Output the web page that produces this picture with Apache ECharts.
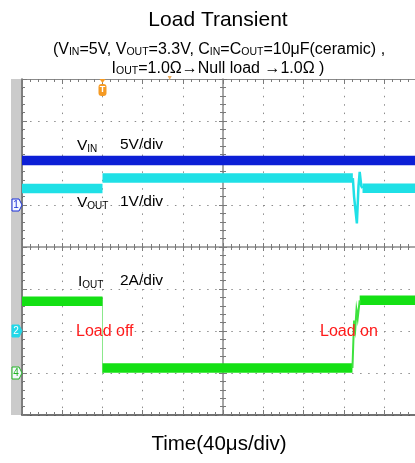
<!DOCTYPE html>
<html><head><meta charset="utf-8">
<script src="https://cdn.jsdelivr.net/npm/echarts@6/dist/echarts.min.js"></script>
<style>html,body{margin:0;padding:0;background:#fff}#c{width:415px;height:463px}</style>
</head><body><div id="c"></div>
<script>
// ---- data (x in time divisions, y in vertical divisions) ----
// the screen is 10 divisions wide but the picture is cut at about 9.76 divisions
const xDivs = [0, 9.764];
const yDivs = [0, 8];
const vinBand = [[0, 6.06], [10, 6.06]];
const voutBandBefore = [[0, 5.39], [2.0, 5.39]];
const voutBandMid = [[2.0, 5.64], [8.22, 5.64]];
const voutBandAfter = [[8.46, 5.40], [10, 5.40]];
const voutTransient = [[8.22, 5.64], [8.25, 5.2], [8.32, 4.56], [8.36, 5.45], [8.39, 5.79], [8.43, 5.45], [8.46, 5.40]];
const ioutBandHigh = [[0, 2.71], [2.0, 2.71]];
const ioutBandLow = [[2.0, 1.12], [8.21, 1.12]];
const ioutBandHigh2 = [[8.39, 2.73], [10, 2.73]];
const ioutFall = [[2.0, 2.76], [2.0, 0.98]];
const ioutRise = [[8.21, 1.12], [8.25, 2.25], [8.28, 2.05], [8.31, 2.5], [8.34, 2.3], [8.39, 2.73]];
const channelGround = [{ch: '1', y: 5, color: '#1a2fd8', filled: false},
                       {ch: '2', y: 2, color: '#22d8e8', filled: true},
                       {ch: '4', y: 1, color: '#22b422', filled: false}];
const triggerX = 2;
const positionMarkX = 3.67;

const FONT = '"Liberation Sans", Arial, sans-serif';
const chart = echarts.init(document.getElementById('c'));

function xAx(o) {
  return Object.assign({
    type: 'value', min: xDivs[0], max: xDivs[1], interval: 1, gridIndex: 0,
    axisLabel: {show: false}, splitLine: {show: false},
    axisLine: {show: true, onZero: false, lineStyle: {color: '#6a6a6a', width: 1}},
    axisTick: {show: true, inside: true, length: 5, lineStyle: {color: '#7a7a7a'}},
    minorTick: {show: true, splitNumber: 5, length: 3, lineStyle: {color: '#7a7a7a'}}
  }, o);
}
function yAx(o) {
  return Object.assign({
    type: 'value', min: yDivs[0], max: yDivs[1], interval: 1, gridIndex: 0,
    axisLabel: {show: false}, splitLine: {show: false},
    axisLine: {show: true, onZero: false, lineStyle: {color: '#6a6a6a', width: 1}},
    axisTick: {show: true, inside: true, length: 5, lineStyle: {color: '#7a7a7a'}},
    minorTick: {show: true, splitNumber: 5, length: 3, lineStyle: {color: '#7a7a7a'}}
  }, o);
}

function band(data, color, w, z) {
  return {type: 'line', data, xAxisIndex: 0, yAxisIndex: 0, symbol: 'none', silent: true,
    animation: false, z: z || 3, lineStyle: {color, width: w, cap: 'butt', join: 'miter'}};
}

const M = {fontSize: 15.5, lineHeight: 20, verticalAlign: 'bottom', fontFamily: FONT, fill: '#000'};
const S = {fontSize: 10, lineHeight: 10, verticalAlign: 'bottom', fontFamily: FONT, fill: '#000'};
const TM = {fontSize: 16, lineHeight: 20, verticalAlign: 'bottom', fontFamily: FONT, fill: '#000'};
const TS = {fontSize: 10.5, lineHeight: 10, verticalAlign: 'bottom', fontFamily: FONT, fill: '#000'};

function rtext(x, y, text, rich, align) {
  return {type: 'text', x, y, z: 20, silent: true,
    style: {text, rich, align: align || 'left', verticalAlign: 'middle', fontFamily: FONT}};
}

chart.setOption({
  animation: false,
  backgroundColor: '#fff',
  grid: {left: 22, top: 79, right: 0, bottom: 48, containLabel: false},
  xAxis: [
    xAx({position: 'bottom', axisLine: {show: true, onZero: false, lineStyle: {color: '#444', width: 1.5}},
      splitLine: {show: true, lineStyle: {color: '#8c8c8c', width: 1, type: [1.5, 6.9]}}}),
    xAx({position: 'top', axisLine: {show: true, onZero: false, lineStyle: {color: '#8a8a8a', width: 1}}}),
    xAx({position: 'bottom', offset: -168, axisLine: {show: true, onZero: false, lineStyle: {color: '#8a8a8a', width: 1.5}}, axisTick: {show: true, inside: true, length: 4, lineStyle: {color: '#7a7a7a'}}}),
    xAx({position: 'bottom', offset: -168, axisLine: {show: false}, axisTick: {show: true, inside: false, length: 4, lineStyle: {color: '#7a7a7a'}}})
  ],
  yAxis: [
    yAx({position: 'left', axisLine: {show: true, onZero: false, lineStyle: {color: '#555', width: 1.5}},
      splitLine: {show: true, lineStyle: {color: '#8c8c8c', width: 1, type: [1.5, 6.55]}}}),
    yAx({position: 'left', offset: -201, axisLine: {show: true, onZero: false, lineStyle: {color: '#8a8a8a', width: 1.5}}, axisTick: {show: true, inside: true, length: 4, lineStyle: {color: '#7a7a7a'}}}),
    yAx({position: 'left', offset: -201, axisLine: {show: false}, axisTick: {show: true, inside: false, length: 4, lineStyle: {color: '#7a7a7a'}}})
  ],
  series: [
    band(vinBand, '#0c1fd6', 9.5),
    band(voutBandBefore, '#1fe0e6', 9.5),
    band(voutBandMid, '#1fe0e6', 9.5),
    band(voutBandAfter, '#1fe0e6', 9.5),
    band(voutTransient, '#1fe0e6', 2.5),
    band(ioutBandHigh, '#14e014', 9.5),
    band(ioutBandLow, '#14e014', 9.5),
    band(ioutBandHigh2, '#14e014', 9.5),
    band(ioutFall, '#8be88b', 1, 2),
    band(ioutRise, '#3ee23e', 2)
  ]
});

// decorations placed through the axes' own scale
const px = (x, y) => chart.convertToPixel({xAxisIndex: 0, yAxisIndex: 0}, [x, y]);
const pTop = px(0, yDivs[1]), pBot = px(0, yDivs[0]);
const graphics = [
  {type: 'rect', z: 0, silent: true, shape: {x: 11, y: pTop[1], width: 10, height: pBot[1] - pTop[1]}, style: {fill: '#cbcbcb'}}
];
channelGround.forEach(c => {
  const p = px(0, c.y);
  const cy = p[1];
  graphics.push({type: 'polygon', z: 15, silent: true,
    shape: {points: [[12, cy - 6], [19, cy - 6], [22, cy], [19, cy + 6], [12, cy + 6]]},
    style: {fill: c.filled ? c.color : '#f4f8ff', stroke: c.color, lineWidth: 1}});
  graphics.push({type: 'text', z: 16, silent: true, x: 16, y: cy,
    style: {text: c.ch, fill: c.filled ? '#fff' : c.color, fontSize: 10, fontFamily: FONT, align: 'center', verticalAlign: 'middle'}});
});
const tp = px(triggerX, yDivs[1]);
graphics.push({type: 'polygon', z: 15, silent: true, shape: {points: [[tp[0] - 3, tp[1]], [tp[0] + 3, tp[1]], [tp[0], tp[1] + 4]]}, style: {fill: '#f59a23'}});
graphics.push({type: 'rect', z: 15, silent: true, shape: {x: tp[0] - 4, y: tp[1] + 5, width: 8, height: 12, r: 3}, style: {fill: '#f59a23'}});
graphics.push({type: 'text', z: 16, silent: true, x: tp[0], y: tp[1] + 11,
  style: {text: 'T', fill: '#fff', fontSize: 9, fontWeight: 'bold', fontFamily: FONT, align: 'center', verticalAlign: 'middle'}});
const pm = px(positionMarkX, yDivs[1]);
graphics.push({type: 'polygon', z: 15, silent: true, shape: {points: [[pm[0] - 2, pm[1] - 3], [pm[0] + 2, pm[1] - 3], [pm[0], pm[1] + 1]]}, style: {fill: '#f0b060'}});

graphics.push(
  {type: 'text', z: 20, silent: true, x: 218, y: 20, style: {text: 'Load Transient', fontSize: 21, fontFamily: FONT, fill: '#000', align: 'center', verticalAlign: 'middle'}},
  rtext(219, 48, '{m|(V}{s|IN}{m|=5V, V}{s|OUT}{m|=3.3V, C}{s|IN}{m|=C}{s|OUT}{m|=10μF(ceramic) ,}', {m: TM, s: TS}, 'center'),
  rtext(218, 67, '{m|I}{s|OUT}{m|=1.0Ω→Null load →1.0Ω )}', {m: TM, s: TS}, 'center'),
  {type: 'text', z: 20, silent: true, x: 219, y: 444, style: {text: 'Time(40μs/div)', fontSize: 20.5, fontFamily: FONT, fill: '#000', align: 'center', verticalAlign: 'middle'}},
  rtext(77, 144, '{m|V}{s|IN}', {m: M, s: S}),
  rtext(120, 143, '{m|5V/div}', {m: M}),
  rtext(77, 201, '{m|V}{s|OUT}', {m: M, s: S}),
  rtext(120, 200, '{m|1V/div}', {m: M}),
  rtext(78, 280, '{m|I}{s|OUT}', {m: M, s: S}),
  rtext(120, 279, '{m|2A/div}', {m: M}),
  {type: 'text', z: 20, silent: true, x: 76, y: 332, style: {text: 'Load off', fontSize: 16, fontFamily: FONT, fill: '#ff1a1a', align: 'left', verticalAlign: 'middle'}},
  {type: 'text', z: 20, silent: true, x: 320, y: 332, style: {text: 'Load on', fontSize: 16, fontFamily: FONT, fill: '#ff1a1a', align: 'left', verticalAlign: 'middle'}}
);
chart.setOption({graphic: graphics});
</script></body></html>
